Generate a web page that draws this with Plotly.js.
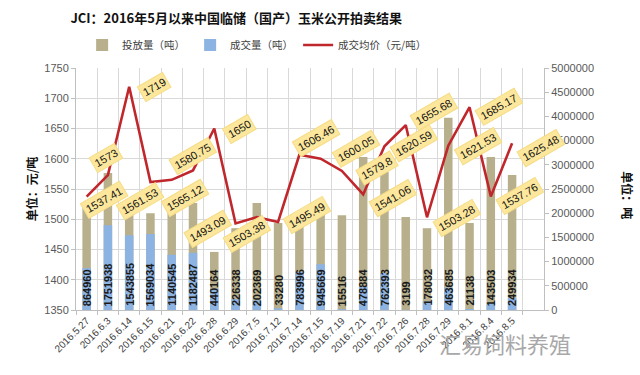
<!DOCTYPE html>
<html><head><meta charset="utf-8">
<script src="https://cdn.plot.ly/plotly-3.0.1.min.js"></script>
<style>html,body{margin:0;padding:0;background:#fff;} #chart{width:640px;height:375px;}</style>
</head><body><div id="chart"></div>
<script>
const dates = ['2016.5.27','2016.6.3','2016.6.14','2016.6.15','2016.6.21','2016.6.22','2016.6.28','2016.6.29','2016.7.5','2016.7.12','2016.7.14','2016.7.15','2016.7.19','2016.7.21','2016.7.22','2016.7.26','2016.7.28','2016.7.29','2016.8.1','2016.8.4','2016.8.5'];
const offered = [2150000,2830000,2100000,2000000,2100000,2210000,1200000,1690000,2210000,1800000,2000000,2000000,1960000,3160000,2850000,1920000,1690000,3970000,1800000,3160000,2790000];
const traded = [864960,1751938,1543855,1569034,1140545,1182487,440164,226338,202369,33280,783996,945669,15516,478884,762393,3199,178032,463685,21138,143503,249934];
const price = [1537.41,1573,1719,1561.53,1565.12,1580.75,1650,1493.09,1503.38,1495.49,1606.46,1600.05,1579.8,1541.06,1620.59,1655.68,1503.28,1621.53,1685.17,1537.76,1625.48];
const seriesNames = ['投放量（吨）','成交量（吨）','成交均价（元/吨）'];
const titleText = 'JCI：2016年5月以来中国临储（国产）玉米公开拍卖结果';
const leftTitle = '单位：元/吨';
const rightTitle = '单位：吨';
const watermark = '汇易饲料养殖';

// label placement (screen px offsets of each price label from its point)
const labelShift = [[17,3],[-2,-17],[25,0],[-10,19],[13,18],[0,-14],[25,0],[-28,6],[-10,17],[29,-7],[17,-17],[35,-10],[35,-3],[30,4],[30,-3],[28,-13],[30,1],[30,0],[29,0],[29,0],[29,5]];

const FONT = 'Liberation Sans, Arial, Noto Sans CJK SC, sans-serif';
const CJK = 'Noto Sans CJK SC, Liberation Sans, sans-serif';

const traces = [
  {type:'bar', name:seriesNames[0], x:dates, y:offered, width:0.4, marker:{color:'#B8B08D'}, xaxis:'x', yaxis:'y', hoverinfo:'skip'},
  {type:'bar', name:seriesNames[1], x:dates, y:traded, width:0.4, marker:{color:'#8DB3E2'}, xaxis:'x', yaxis:'y', hoverinfo:'skip'},
  {type:'scatter', mode:'lines', name:seriesNames[2], x:dates, y:price, line:{color:'#C0272D', width:2.6}, xaxis:'x', yaxis:'y2', hoverinfo:'skip'}
];

const annotations = [];
traded.forEach((v,i)=>{
  annotations.push({x:dates[i], y:0, xref:'x', yref:'y', text:String(v), showarrow:false, textangle:-90,
    yanchor:'bottom', xanchor:'center', yshift:2, font:{family:FONT, size:11, color:'#1a1a1a', weight:'bold'}});
});
price.forEach((v,i)=>{
  annotations.push({x:dates[i], y:v, xref:'x', yref:'y2', text:String(v), showarrow:false, textangle:-30,
    xanchor:'center', yanchor:'middle', xshift:labelShift[i][0], yshift:-labelShift[i][1],
    bgcolor:'#FCE79C', bordercolor:'#F5DC86', borderwidth:1, borderpad:2,
    font:{family:FONT, size:11, color:'#111'}});
});
annotations.push({xref:'paper', yref:'paper', x:0.917, y:-0.136, text:watermark, showarrow:false,
  xanchor:'center', yanchor:'middle', font:{family:CJK, size:22, color:'#a8a8a8'}});
annotations.push({xref:'paper', yref:'paper', x:1.179, y:0.475, text:rightTitle, showarrow:false, textangle:90,
  xanchor:'center', yanchor:'middle', font:{family:CJK, size:12, color:'#111', weight:'bold'}});

const axisLine = '#bfbfbf';
const layout = {
  width:640, height:375,
  margin:{l:76, r:96, t:68, b:65, pad:0},
  paper_bgcolor:'#ffffff', plot_bgcolor:'#ffffff',
  font:{family:FONT, size:11, color:'#595959'},
  title:{text:titleText, font:{family:CJK, size:13, color:'#111', weight:'bold'},
    x:0.369, xref:'container', xanchor:'center', y:0.952, yref:'container', yanchor:'middle'},
  barmode:'overlay',
  showlegend:true,
  legend:{orientation:'h', x:0.387, xanchor:'center', y:1.095, yanchor:'middle',
    font:{family:CJK, size:10.5, color:'#404040'}, traceorder:'normal', itemwidth:30},
  xaxis:{type:'category', range:[-0.5,21.5], tickson:'boundaries', showgrid:true, gridcolor:'#d9d9d9',
    ticks:'outside', ticklen:4, tickcolor:axisLine, showline:true, linecolor:axisLine,
    tickangle:-45, tickfont:{family:FONT, size:10, color:'#404040'}, fixedrange:true},
  yaxis:{side:'right', range:[0,5000000], dtick:500000, tickformat:'d', showgrid:false, zeroline:false,
    showline:true, linecolor:axisLine, ticks:'outside', ticklen:4, tickcolor:axisLine,
    tickfont:{family:FONT, size:11, color:'#595959'}},
  yaxis2:{overlaying:'y', side:'left', range:[1350,1750], dtick:50, showgrid:true, gridcolor:'#d9d9d9', zeroline:false,
    showline:true, linecolor:axisLine, ticks:'outside', ticklen:4, tickcolor:axisLine,
    tickfont:{family:FONT, size:11, color:'#595959'},
    title:{text:leftTitle, font:{family:CJK, size:12, color:'#111', weight:'bold'}, standoff:4}},
  annotations:annotations
};

Plotly.newPlot('chart', traces, layout, {displayModeBar:false, staticPlot:true});
</script>
</body></html>
